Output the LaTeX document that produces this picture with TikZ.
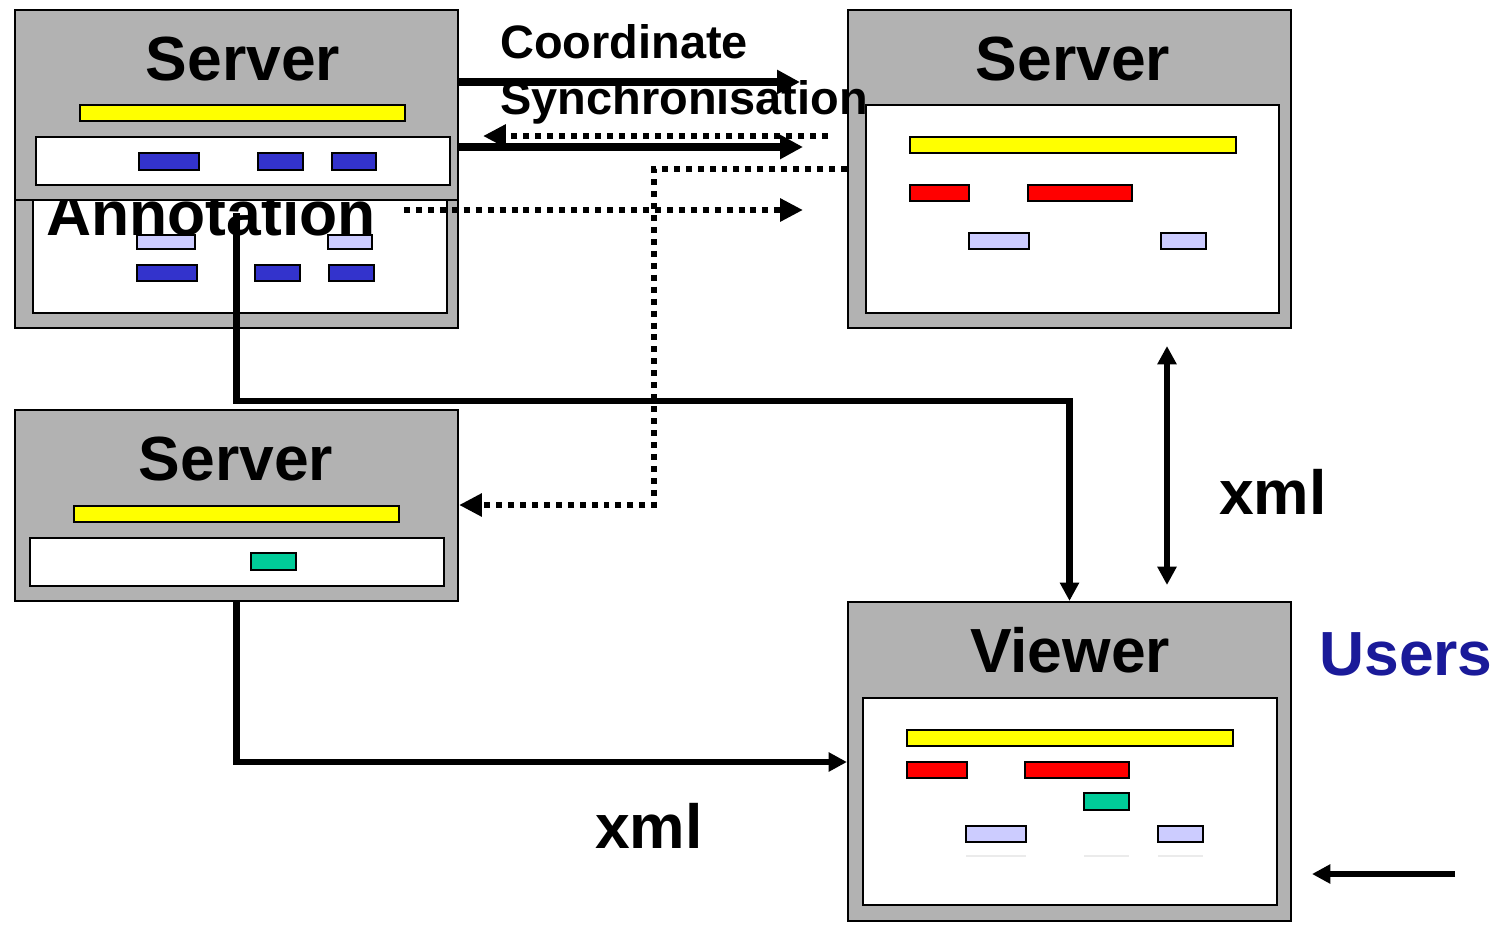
\documentclass[tikz,border=0pt]{standalone}
\usepackage{fontspec}
\setmainfont{Liberation Sans}
\usetikzlibrary{arrows.meta,fit}
\definecolor{boxgray}{RGB}{178,178,178}
\definecolor{bary}{RGB}{255,255,0}
\definecolor{barr}{RGB}{255,0,0}
\definecolor{barb}{RGB}{51,51,204}
\definecolor{barl}{RGB}{204,204,255}
\definecolor{bart}{RGB}{0,204,153}
\definecolor{usersblue}{RGB}{26,26,153}
\tikzset{
  outerbox/.style={draw=black, fill=boxgray, line width=1.2pt, inner sep=0pt},
  innerbox/.style={draw=black, fill=white, line width=1.2pt, inner sep=0pt},
  bar/.style={draw=black, fill=#1, line width=1pt, inner sep=0pt},
  faint/.style={draw=black!8, line width=0.6pt},
  title/.style={font=\bfseries\fontsize{35.5}{40}\selectfont, anchor=base, inner sep=0pt},
  label/.style={font=\bfseries\fontsize{26.7}{30}\selectfont, anchor=base west, inner sep=0pt},
  sync/.style={line width=4.2pt, -{Triangle[length=13pt,width=13pt]}},
  conn/.style={line width=3.5pt, -{Triangle[length=10.5pt,width=10.5pt]}},
  dotarrow/.style={line width=3.5pt, dash pattern=on 3.4pt off 3.4pt, -{Triangle[length=13pt,width=12.5pt]}},
}
\begin{document}
\begin{tikzpicture}[x=0.02cm, y=-0.02cm]
\useasboundingbox (0,0) rectangle (1505,927);

% ---- Annotation box (partly hidden) ----
\node[outerbox, fit={(15,150) (458,328)}] (ann) {};
\node[innerbox, fit={(33,170) (447,313)}] (annIn) {};
\node[bar=barl, fit={(137,235) (195,249)}] (annL1) {};
\node[bar=barl, fit={(328,235) (372,249)}] (annL2) {};
\node[bar=barb, fit={(137,265) (197,281)}] (annB1) {};
\node[bar=barb, fit={(255,265) (300,281)}] (annB2) {};
\node[bar=barb, fit={(329,265) (374,281)}] (annB3) {};
\node[title] (annT) at (211,235) {Annotation};

% ---- Top-left server ----
\node[outerbox, fit={(15,10) (458,200)}] (tl) {};
\node[title] (tlT) at (243,80) {Server};
\node[bar=bary, fit={(80,105) (405,121)}] (tlY) {};
\node[innerbox, fit={(36,137) (450,185)}] (tlIn) {};
\node[bar=barb, fit={(139,153) (199,170)}] (tlB1) {};
\node[bar=barb, fit={(258,153) (303,170)}] (tlB2) {};
\node[bar=barb, fit={(332,153) (376,170)}] (tlB3) {};

% ---- Top-right server ----
\node[outerbox, fit={(848,10) (1291,328)}] (tr) {};
\node[title] (trT) at (1073,80) {Server};
\node[innerbox, fit={(866,105) (1279,313)}] (trIn) {};
\node[bar=bary, fit={(910,137) (1236,153)}] (trY) {};
\node[bar=barr, fit={(910,185) (969,201)}] (trR1) {};
\node[bar=barr, fit={(1028,185) (1132,201)}] (trR2) {};
\node[bar=barl, fit={(969,233) (1029,249)}] (trL1) {};
\node[bar=barl, fit={(1161,233) (1206,249)}] (trL2) {};

% ---- Middle-left server ----
\node[outerbox, fit={(15,410) (458,601)}] (mid) {};
\node[title] (midT) at (236,480) {Server};
\node[bar=bary, fit={(74,506) (399,522)}] (midY) {};
\node[innerbox, fit={(30,538) (444,586)}] (midIn) {};
\node[bar=bart, fit={(251,553) (296,570)}] (midG) {};

% ---- Viewer ----
\node[outerbox, fit={(848,602) (1291,921)}] (viewer) {};
\node[title] (vT) at (1070,672) {Viewer};
\node[innerbox, fit={(863,698) (1277,905)}] (vIn) {};
\node[bar=bary, fit={(907,730) (1233,746)}] (vY) {};
\node[bar=barr, fit={(907,762) (967,778)}] (vR1) {};
\node[bar=barr, fit={(1025,762) (1129,778)}] (vR2) {};
\node[bar=bart, fit={(1084,793) (1129,810)}] (vG) {};
\node[bar=barl, fit={(966,826) (1026,842)}] (vL1) {};
\node[bar=barl, fit={(1158,826) (1203,842)}] (vL2) {};
\draw[faint] (966,856) -- (1026,856);
\draw[faint] (1084,856) -- (1129,856);
\draw[faint] (1158,856) -- (1203,856);

% ---- connectors ----
\coordinate (s1) at (800,82);
\coordinate (s2) at (803,147);
\draw[sync] (tl.east |- s1) -- (s1);
\draw[sync] (tl.east |- s2) -- (s2);

\coordinate (d1a) at (828,136);
\coordinate (d1b) at (483,136);
\draw[dotarrow] (d1a) -- (d1b);

\coordinate (d2) at (654,169);
\coordinate (d3) at (654,505);
\draw[dotarrow] (tr.west |- d2) -- (d2) -- (d3) -- (mid.east |- d3);

\coordinate (d4a) at (404,210);
\coordinate (d4b) at (803,210);
\draw[dotarrow] (d4a) -- (d4b);

\coordinate (a1) at (236.5,213);
\coordinate (a2) at (236.5,401);
\draw[conn] (a1) -- (a2) -| (viewer.north);

\coordinate (m1) at (0,762);
\draw[conn] (mid.south) |- (viewer.west |- m1);

\coordinate (x1) at (1167,346);
\coordinate (x2) at (1167,585);
\draw[conn, {Triangle[length=10.5pt,width=10.5pt]}-{Triangle[length=10.5pt,width=10.5pt]}] (x1) -- (x2);

\coordinate (u1) at (1455,874);
\coordinate (u2) at (1312,874);
\draw[conn] (u1) -- (u2);

% ---- free texts ----
\node[label] (coord) at (500,58) {Coordinate};
\node[label] (syncT) at (500,114) {Synchronisation};
\node[title] (xml1) at (1273,514) {xml};
\node[title] (xml2) at (649,848) {xml};
\node[title, text=usersblue] (users) at (1406,675) {Users};
\end{tikzpicture}
\end{document}
